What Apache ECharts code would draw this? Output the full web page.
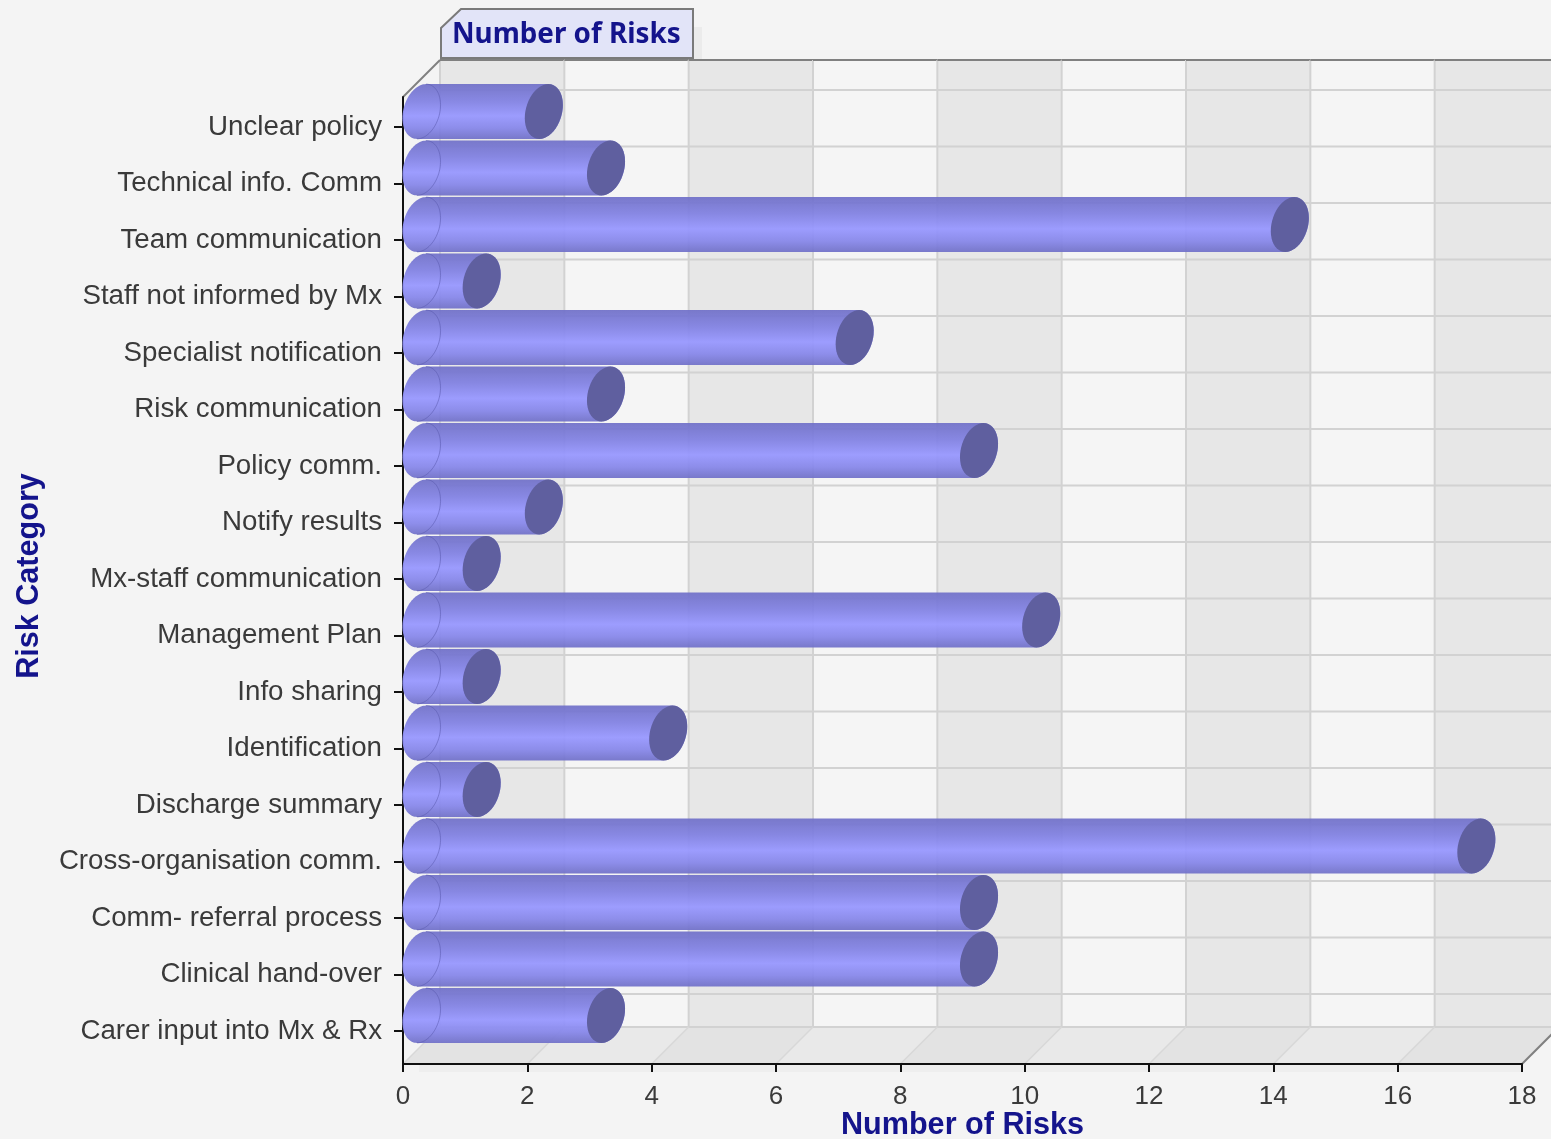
<!DOCTYPE html>
<html>
<head>
<meta charset="utf-8">
<style>html,body{margin:0;padding:0;background:#f4f4f4}#chart{width:1551px;height:1139px}</style>
<script src="https://cdn.jsdelivr.net/npm/echarts@6/dist/echarts.min.js"></script>
</head>
<body>
<div id="chart"></div>
<script>
// Risk categories, top to bottom, and how many risks each one holds.
const categories = ['Unclear policy', 'Technical info. Comm', 'Team communication', 'Staff not informed by Mx',
  'Specialist notification', 'Risk communication', 'Policy comm.', 'Notify results', 'Mx-staff communication',
  'Management Plan', 'Info sharing', 'Identification', 'Discharge summary', 'Cross-organisation comm.',
  'Comm- referral process', 'Clinical hand-over', 'Carer input into Mx & Rx'];
const riskCounts = [2, 3, 14, 1, 7, 3, 9, 2, 1, 10, 1, 4, 1, 17, 9, 9, 3];
// Alternating wall bands along the value axis: [from, to].
const wallBands = [[0, 2], [2, 4], [4, 6], [6, 8], [8, 10], [10, 12], [12, 14], [14, 16], [16, 18]];
const axisMax = 18;
const axisStep = 2;
const chartTitle = 'Number of Risks';
const valueAxisTitle = 'Number of Risks';
const categoryAxisTitle = 'Risk Category';

const DEPTH = 37;        // horizontal and vertical run of the 3D depth
const LEFT = 403, AXIS_W = 1119;
const FONT = '"Liberation Sans", Arial, sans-serif';
const TAB_FONT = '"Noto Sans", "Liberation Sans", sans-serif';
const NAVY = '#14148c';

const chart = echarts.init(document.getElementById('chart'), null, { renderer: 'canvas' });

// Back wall, floor and gridlines for one band of the value axis.
function renderWall(params, api) {
  const [x0, yTop] = api.coord([api.value(0), 1]);
  const [x1, yBottom] = api.coord([api.value(1), 0]);
  const odd = params.dataIndex % 2 === 0;
  const children = [
    { type: 'rect', shape: { x: x0 + (params.dataIndex === 0 ? 16 : 0), y: yBottom + 1, width: x1 - x0, height: 7 },
      style: { fill: '#eeeeee' } },
    { type: 'rect', shape: { x: x0 + DEPTH, y: yTop - DEPTH, width: x1 - x0, height: yBottom - yTop },
      style: { fill: odd ? '#e7e7e7' : '#f5f5f5' } },
    { type: 'polygon', shape: { points: [[x0, yBottom], [x1, yBottom], [x1 + DEPTH, yBottom - DEPTH], [x0 + DEPTH, yBottom - DEPTH]] },
      style: { fill: odd ? '#e3e3e3' : '#e9e9e9' } },
    { type: 'line', shape: { x1: x0 + DEPTH, y1: yTop - DEPTH, x2: x0 + DEPTH, y2: yBottom - DEPTH },
      style: { stroke: '#d2d2d2', lineWidth: 2 } },
    { type: 'line', shape: { x1: x0, y1: yBottom, x2: x0 + DEPTH, y2: yBottom - DEPTH },
      style: { stroke: '#d8d8d8', lineWidth: 1.5 } },
    { type: 'line', shape: { x1: x0 + DEPTH, y1: yTop - DEPTH, x2: x1 + DEPTH, y2: yTop - DEPTH },
      style: { stroke: '#808080', lineWidth: 2 } },
    { type: 'line', shape: { x1: x0 + DEPTH, y1: yBottom - DEPTH, x2: x1 + DEPTH, y2: yBottom - DEPTH },
      style: { stroke: '#d2d2d2', lineWidth: 2 } }
  ];
  if (params.dataIndex === 0) {
    // Left edge of the box, rising from the top of the category axis.
    children.push({ type: 'line', shape: { x1: x0, y1: yTop, x2: x0 + DEPTH, y2: yTop - DEPTH },
      style: { stroke: '#808080', lineWidth: 2 } });
  }
  if (params.dataIndex === wallBands.length - 1) {
    children.push({ type: 'line', shape: { x1: x1, y1: yBottom, x2: x1 + DEPTH, y2: yBottom - DEPTH },
      style: { stroke: '#808080', lineWidth: 2 } });
  }
  return { type: 'group', children };
}

// Horizontal gridline on the back wall, one for every category tick.
function renderWallLine(params, api) {
  const y = api.coord([0, api.value(1)])[1] - DEPTH;
  return { type: 'line', shape: { x1: LEFT + DEPTH, y1: y, x2: LEFT + AXIS_W + DEPTH, y2: y },
    style: { stroke: '#d2d2d2', lineWidth: 2 } };
}

// Sheared ellipse outline used for the cylinder ends.
function ellipsePoint(cx, cy, a, k, b, t) {
  return [cx + a * Math.cos(t) + k * Math.sin(t), cy - b * Math.sin(t)];
}

// Horizontal cylinder whose far cap sits at the value on the axis.
function renderCylinder(params, api) {
  const value = api.value(0);
  const origin = api.coord([0, api.value(1)]);
  const end = api.coord([value, api.value(1)]);
  const cy = origin[1] - 15.5;
  const b = api.size([0, 1])[1] * 0.485;
  const a = 18.5, k = 4.5;
  const x0 = origin[0] + DEPTH / 2;
  const x1 = end[0] + 16.5;
  const steps = 48;
  const cap = (cx, from, to) => {
    const pts = [];
    for (let i = 0; i <= steps; i++) {
      pts.push(ellipsePoint(cx, cy, a, k, b, from + (to - from) * i / steps));
    }
    return pts;
  };
  // Silhouette: back half of the start cap, then forward along the top,
  // round the far cap and home along the bottom.
  const body = cap(x0, Math.PI / 2, 3 * Math.PI / 2).concat(cap(x1, -Math.PI / 2, Math.PI / 2));
  const fill = {
    type: 'linear', x: 0, y: 0, x2: 0, y2: 1,
    colorStops: [
      { offset: 0, color: 'rgba(112,112,200,0.93)' },
      { offset: 0.3, color: 'rgba(128,128,226,0.93)' },
      { offset: 0.58, color: 'rgba(152,152,255,0.95)' },
      { offset: 0.8, color: 'rgba(134,134,234,0.93)' },
      { offset: 1, color: 'rgba(112,112,200,0.93)' }
    ]
  };
  return {
    type: 'group',
    children: [
      { type: 'polygon', shape: { points: body }, style: { fill } },
      { type: 'polyline', shape: { points: cap(x0, -Math.PI / 2, Math.PI / 2) },
        style: { fill: 'none', stroke: 'rgba(86,86,170,0.5)', lineWidth: 1 } },
      { type: 'polygon', shape: { points: cap(x1, 0, 2 * Math.PI) },
        style: { fill: '#5f5f9f' } }
    ]
  };
}

chart.setOption({
  backgroundColor: '#f4f4f4',
  animation: false,
  grid: [
    // Frame of the plot, carries the value axis.
    { left: LEFT, top: 97, width: AXIS_W, height: 967, outerBoundsMode: 'none' },
    // Category bands sit slightly inside the frame.
    { left: LEFT, top: 98.75, width: AXIS_W, height: 960.5, outerBoundsMode: 'none' }
  ],
  xAxis: [
    { type: 'value', gridIndex: 0, min: 0, max: axisMax, interval: axisStep, z: 1,
      name: valueAxisTitle, nameLocation: 'middle', nameGap: 46, nameMoveOverlap: false,
      nameTextStyle: { fontFamily: FONT, fontWeight: 'bold', fontSize: 30.6, color: NAVY },
      axisLine: { show: true, lineStyle: { color: '#111', width: 2 } },
      axisTick: { show: true, length: 8, lineStyle: { color: '#111', width: 2 } },
      axisLabel: { fontFamily: FONT, fontSize: 26, color: '#3a3a3a', margin: 20 },
      splitLine: { show: false } },
    { type: 'value', gridIndex: 1, min: 0, max: axisMax, interval: axisStep, show: false }
  ],
  yAxis: [
    { type: 'value', gridIndex: 0, min: 0, max: 1, z: 1,
      axisLine: { show: true, onZero: false, lineStyle: { color: '#111', width: 2 } },
      axisTick: { show: false }, axisLabel: { show: false }, splitLine: { show: false } },
    { type: 'category', gridIndex: 1, inverse: true, data: categories, z: 1,
      name: categoryAxisTitle, nameLocation: 'middle', nameGap: 358, nameRotate: 90, nameMoveOverlap: false,
      nameTextStyle: { fontFamily: FONT, fontWeight: 'bold', fontSize: 30.6, color: NAVY, padding: [0, 0, 0, 6] },
      axisLine: { show: false },
      axisTick: { show: true, alignWithLabel: true, length: 9, lineStyle: { color: '#111', width: 2 } },
      axisLabel: { fontFamily: FONT, fontSize: 27.7, color: '#3a3a3a', margin: 21, interval: 0 },
      splitLine: { show: false } }
  ],
  series: [
    { type: 'custom', xAxisIndex: 0, yAxisIndex: 0, z: 0, silent: true, clip: false,
      renderItem: renderWall, data: wallBands },
    { type: 'custom', xAxisIndex: 1, yAxisIndex: 1, z: 0, silent: true, clip: false,
      renderItem: renderWallLine, encode: { y: 1 },
      data: categories.map((c, i) => [0, i]) },
    { type: 'custom', xAxisIndex: 1, yAxisIndex: 1, z: 2, silent: true, clip: false,
      renderItem: renderCylinder, encode: { x: 0, y: 1 },
      data: riskCounts.map((v, i) => [v, i]) }
  ],
  graphic: [
    // Title tab standing on the top edge of the back wall.
    { type: 'polygon', z: 3, silent: true,
      shape: { points: [[693, 27], [702, 27], [702, 59], [693, 59]] },
      style: { fill: 'rgba(0,0,0,0.035)' } },
    { type: 'polygon', z: 4, silent: true,
      shape: { points: [[441, 28], [461, 9], [693, 9], [693, 58], [441, 58]] },
      style: { fill: '#e2e4f8', stroke: '#7a7a7a', lineWidth: 2 } },
    { type: 'text', z: 5, silent: true, left: 452, top: 15,
      style: { text: chartTitle, fontFamily: TAB_FONT, fontWeight: 'bold', fontSize: 27.8, fill: NAVY,
        verticalAlign: 'top', lineHeight: 40 } }
  ]
});
</script>
</body>
</html>
